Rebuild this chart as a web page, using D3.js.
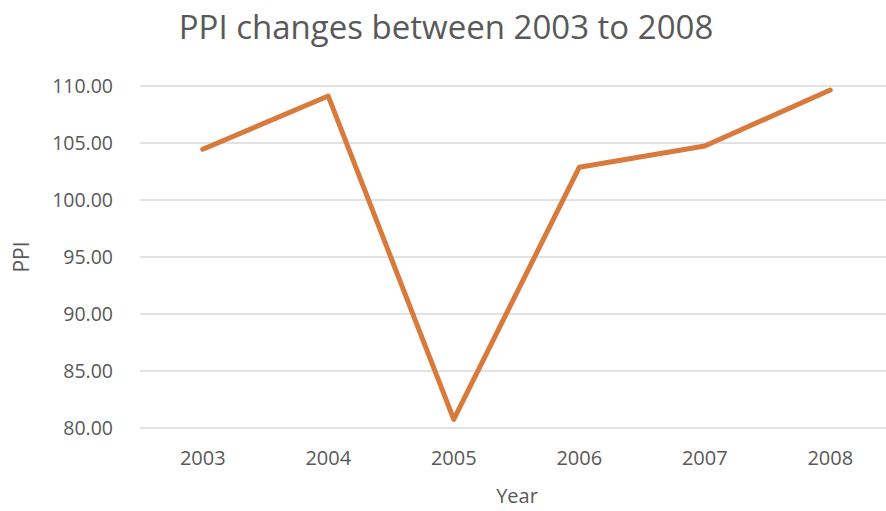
<!DOCTYPE html>
<html>
<head>
<meta charset="utf-8">
<script src="https://cdn.jsdelivr.net/npm/d3@7"></script>
<style>
  body { margin: 0; background: #fff; }
  text { font-family: "Open Sans", "Noto Sans", sans-serif; fill: #595959; }
</style>
</head>
<body>
<svg id="chart"></svg>
<script>
const years = ["2003", "2004", "2005", "2006", "2007", "2008"];
const ppi = [104.45, 109.12, 80.75, 102.87, 104.74, 109.65];
const yTicks = [80, 85, 90, 95, 100, 105, 110];

const totalW = 886, totalH = 511;
const margin = { top: 86, right: -7, bottom: 83, left: 140 };
const width = totalW - margin.left - margin.right;
const height = totalH - margin.top - margin.bottom;

const svg = d3.select("#chart")
  .attr("width", totalW)
  .attr("height", totalH);

const g = svg.append("g")
  .attr("transform", "translate(" + margin.left + "," + margin.top + ")");

const xScale = d3.scaleBand()
  .domain(years)
  .range([0, width])
  .padding(0);

const yScale = d3.scaleLinear()
  .domain([80, 110])
  .range([height, 0]);

// gridlines
g.append("g")
  .selectAll("line")
  .data(yTicks)
  .enter()
  .append("line")
  .attr("x1", 0)
  .attr("x2", width)
  .attr("y1", d => yScale(d))
  .attr("y2", d => yScale(d))
  .attr("stroke", "#d9d9d9")
  .attr("stroke-width", 1.5);

// y axis labels
const yAxis = d3.axisLeft(yScale)
  .tickValues(yTicks)
  .tickFormat(d3.format(".2f"))
  .tickSize(0)
  .tickPadding(27);
g.append("g")
  .call(yAxis)
  .call(s => s.select(".domain").remove())
  .selectAll("text")
  .style("font-size", "19.5px")
  .style("fill", "#595959");

// x axis labels
const xAxis = d3.axisBottom(xScale).tickSize(0).tickPadding(23);
g.append("g")
  .attr("transform", "translate(0," + height + ")")
  .call(xAxis)
  .call(s => s.select(".domain").remove())
  .selectAll("text")
  .style("font-size", "20px")
  .style("fill", "#595959");

// line
const line = d3.line()
  .x((d, i) => xScale(years[i]) + xScale.bandwidth() / 2)
  .y(d => yScale(d));

g.append("path")
  .datum(ppi)
  .attr("fill", "none")
  .attr("stroke", "#d97a3d")
  .attr("stroke-width", 5)
  .attr("stroke-linejoin", "round")
  .attr("stroke-linecap", "round")
  .attr("d", line);

// title
svg.append("text")
  .attr("x", 446)
  .attr("y", 39)
  .attr("text-anchor", "middle")
  .style("font-size", "33px")
  .text("PPI changes between 2003 to 2008");

// axis titles
svg.append("text")
  .attr("x", 517)
  .attr("y", 503)
  .attr("text-anchor", "middle")
  .style("font-size", "20px")
  .text("Year");

svg.append("text")
  .attr("transform", "translate(29,257) rotate(-90)")
  .attr("text-anchor", "middle")
  .style("font-size", "21px")
  .text("PPI");
</script>
</body>
</html>
